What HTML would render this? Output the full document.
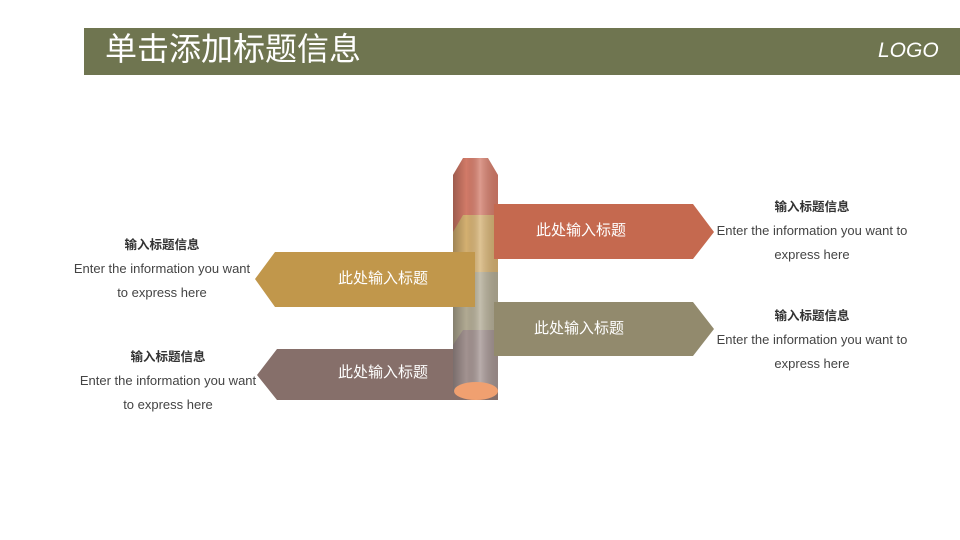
<!DOCTYPE html>
<html><head><meta charset="utf-8"><style>
body{margin:0;width:960px;height:540px;background:#fff;position:relative;overflow:hidden;font-family:"Liberation Sans","Noto Sans CJK SC",sans-serif}
.bar{position:absolute;left:84px;top:28px;width:876px;height:47px;background:#6f7550}
.t{position:absolute;left:105px;top:29px;color:#fff;font-size:32px;line-height:40px}
.logo{position:absolute;left:878px;top:39px;color:#fff;font-size:21px;font-style:italic;letter-spacing:0px}
.tx{position:absolute;width:230px;text-align:center;font-size:13px;color:#444;line-height:24px}
.tx b{color:#333;font-size:12.5px}
.lab{position:absolute;color:#fff;font-size:15px}
</style></head><body>
<div class="bar"></div><div class="t">单击添加标题信息</div><div class="logo">LOGO</div>
<svg width="960" height="540" style="position:absolute;left:0;top:0">
<defs>
<linearGradient id="g" x1="0" x2="1"><stop offset="0" stop-color="#000" stop-opacity=".25"/><stop offset=".3" stop-color="#000" stop-opacity="0"/><stop offset=".6" stop-color="#fff" stop-opacity=".25"/><stop offset="1" stop-color="#000" stop-opacity=".1"/></linearGradient>
<clipPath id="c"><polygon points="453,175 463,158 488,158 498,175 498,400 453,400"/></clipPath>
</defs>
<polygon points="453,175 463,158 488,158 498,175 498,215 453,232" fill="#d27a68"/>
<polygon points="453,232 463,215 498,215 498,272 453,290" fill="#d4b071"/>
<polygon points="453,290 463,272 498,272 498,330 453,345" fill="#b1aa93"/>
<polygon points="453,345 463,330 498,330 498,400 453,400" fill="#a29290"/>
<rect x="453" y="158" width="45" height="242" fill="url(#g)" clip-path="url(#c)"/>
<polygon points="275,252 475,252 475,307 275,307 255,279" fill="#c1974b"/>
<polygon points="277,349 453,349 453,392 498,392 498,400 277,400 257,375" fill="#866f6a"/>
<ellipse cx="476" cy="391" rx="22" ry="9" fill="#f0a070"/>
<polygon points="494,204 693,204 714,232 693,259 494,259" fill="#c5694f"/>
<polygon points="494,302 693,302 714,329 693,356 494,356" fill="#928a6d"/>
</svg>
<div class="lab" style="left:338px;top:267px">此处输入标题</div>
<div class="lab" style="left:338px;top:361px">此处输入标题</div>
<div class="lab" style="left:536px;top:219px">此处输入标题</div>
<div class="lab" style="left:534px;top:317px">此处输入标题</div>
<div class="tx" style="left:47px;top:233px"><b>输入标题信息</b><br>Enter the information you want<br>to express here</div>
<div class="tx" style="left:53px;top:345px"><b>输入标题信息</b><br>Enter the information you want<br>to express here</div>
<div class="tx" style="left:697px;top:195px"><b>输入标题信息</b><br>Enter the information you want to<br>express here</div>
<div class="tx" style="left:697px;top:304px"><b>输入标题信息</b><br>Enter the information you want to<br>express here</div>
</body></html>
